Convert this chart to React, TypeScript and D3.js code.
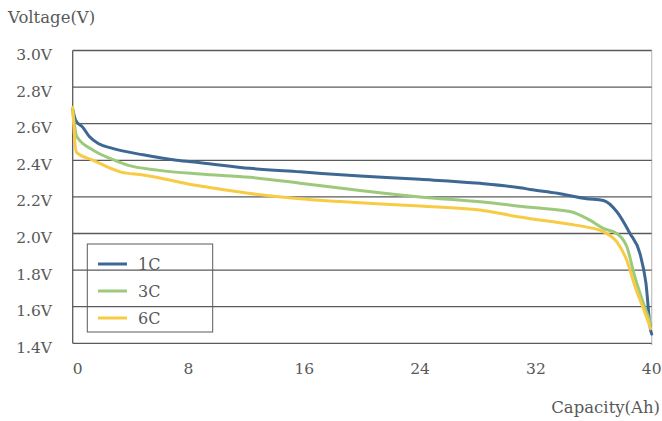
import React from "react";
import * as d3 from "d3";

const yTicks = [1.4, 1.6, 1.8, 2.0, 2.2, 2.4, 2.6, 2.8, 3.0];
const xTicks = [0, 8, 16, 24, 32, 40];
const seriesNames = ["1C", "3C", "6C"];
const seriesColors = ["#3d6894", "#9dc97c", "#f8cb45"];

const c1: [number, number][] = [
  [0, 2.68], [0.2, 2.62], [0.7, 2.58], [1.15, 2.53], [1.8, 2.49], [2.75, 2.465],
  [4.86, 2.43], [7.18, 2.40], [8.81, 2.387], [12.25, 2.356], [15.7, 2.337],
  [19.85, 2.314], [24.0, 2.296], [28.14, 2.274], [30.9, 2.25], [31.6, 2.241],
  [33.5, 2.22], [35.5, 2.19], [36.66, 2.18], [37.58, 2.12], [38.5, 2.0],
  [39.19, 1.89], [39.6, 1.73], [39.93, 1.47], [40, 1.45],
];
const c3: [number, number][] = [
  [0, 2.67], [0.28, 2.53], [1.42, 2.455], [2.58, 2.41], [3.73, 2.375], [6.0, 2.345],
  [8.8, 2.325], [12.25, 2.307], [15.7, 2.275], [19.85, 2.235], [24.0, 2.2],
  [28.14, 2.173], [31.6, 2.143], [34.35, 2.12], [35.73, 2.073], [36.65, 2.028],
  [37.58, 2.0], [38.27, 1.93], [38.85, 1.76], [39.42, 1.62], [39.93, 1.51],
];
const c6: [number, number][] = [
  [0, 2.69], [0.25, 2.445], [1.42, 2.4], [3.27, 2.337], [4.88, 2.32], [8.81, 2.259],
  [12.25, 2.219], [15.7, 2.19], [19.85, 2.168], [24.0, 2.15], [28.14, 2.128],
  [30.9, 2.09], [34.35, 2.05], [35.51, 2.035], [36.65, 2.01], [37.58, 1.955],
  [38.27, 1.855], [38.85, 1.71], [39.54, 1.565], [39.93, 1.48],
];
const seriesData = [c1, c3, c6];

export default function App() {
  const W = 662, H = 421;
  const x = d3.scaleLinear().domain([0, 40]).range([72.7, 651.7]);
  const y = d3.scaleLinear().domain([1.4, 3.0]).range([343.3, 50.5]);
  const line = d3
    .line<[number, number]>()
    .x((d) => x(d[0]))
    .y((d) => y(d[1]))
    .curve(d3.curveMonotoneX);
  const font = "'DejaVu Serif', serif";
  const textColor = "#595959";
  const lx0 = 87.3, ly0 = 244, lw = 125.4, lh = 88;
  const legY = [264, 291, 318];
  return (
    <svg width={W} height={H} style={{ position: "absolute", left: 0, top: 0 }} fontFamily={font}>
      <rect width={W} height={H} fill="#fff" />
      <text x={8} y={23} fontSize={16.5} fill={textColor}>Voltage(V)</text>
      {/* right border */}
      <line x1={x(40)} x2={x(40)} y1={y(3.0)} y2={y(1.4) + 2} stroke="#c0c0c0" strokeWidth={1.2} />
      {yTicks.map((t) => (
        <g key={t}>
          <line x1={x(0)} x2={x(40)} y1={y(t)} y2={y(t)} stroke="#5a5a5a" strokeWidth={1.3} />
          <text x={52} y={y(t) + 9.5} fontSize={15.5} textAnchor="end" fill={textColor}>
            {t.toFixed(1) + "V"}
          </text>
        </g>
      ))}
      <line x1={x(0)} x2={x(0)} y1={y(3.0)} y2={y(1.4)} stroke="#5a5a5a" strokeWidth={1.3} />
      {xTicks.map((t) => (
        <text key={t} x={x(t) + (t === 0 ? 5 : 0)} y={374} fontSize={15.5} textAnchor="middle" fill={textColor}>
          {t}
        </text>
      ))}
      <text x={660} y={413} fontSize={16.5} textAnchor="end" fill={textColor}>Capacity(Ah)</text>
      {seriesData.map((s, i) => (
        <path key={i} d={line(s) || ""} fill="none" stroke={seriesColors[i]} strokeWidth={3}
          strokeLinejoin="round" strokeLinecap="round" />
      ))}
      <rect x={lx0} y={ly0} width={lw} height={lh} fill="none" stroke="#5a5a5a" strokeWidth={1} />
      {seriesNames.map((n, i) => (
        <g key={n}>
          <line x1={98} x2={127} y1={legY[i]} y2={legY[i]} stroke={seriesColors[i]} strokeWidth={3} />
          <text x={138} y={legY[i] + 6} fontSize={16} fill={textColor}>{n}</text>
        </g>
      ))}
    </svg>
  );
}
